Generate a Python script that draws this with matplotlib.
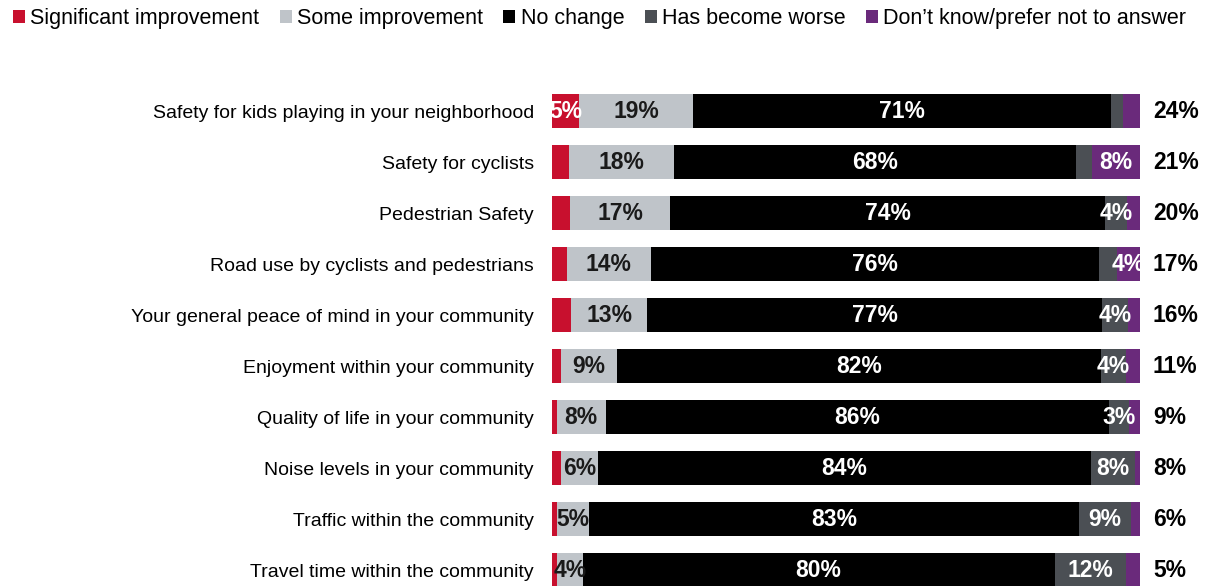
import numpy as np
import matplotlib.pyplot as plt

plt.rcParams['font.family'] = ['Liberation Sans', 'DejaVu Sans']

categories = [
    "Safety for kids playing in your neighborhood",
    "Safety for cyclists",
    "Pedestrian Safety",
    "Road use by cyclists and pedestrians",
    "Your general peace of mind in your community",
    "Enjoyment within your community",
    "Quality of life in your community",
    "Noise levels in your community",
    "Traffic within the community",
    "Travel time within the community",
]
series_names = ["Significant improvement", "Some improvement", "No change",
                "Has become worse", "Don\u2019t know/prefer not to answer"]
significant = [4.6, 2.9, 3.1, 2.5, 3.3, 1.6, 0.8, 1.5, 0.9, 0.9]
some = [19.4, 17.9, 17.0, 14.3, 12.9, 9.4, 8.3, 6.4, 5.4, 4.3]
no_change = [71.1, 68.4, 74.0, 76.2, 77.3, 82.3, 85.7, 83.7, 83.3, 80.3]
worse = [2.0, 2.6, 3.7, 3.1, 4.4, 4.4, 3.4, 7.6, 8.8, 12.1]
dont_know = [2.9, 8.2, 2.2, 3.9, 2.1, 2.3, 1.8, 0.8, 1.6, 2.4]
total_improved = [24, 21, 20, 17, 16, 11, 9, 8, 6, 5]

# which segment labels are printed in the original
show_sig = [True, False, False, False, False, False, False, False, False, False]
show_some = [True] * 10
show_none = [True] * 10
show_worse = [False, False, True, False, True, True, True, True, True, True]
show_dk = [False, True, False, True, False, False, False, False, False, False]

colors = ["#c8102e", "#bfc4c9", "#000000", "#4b4f54", "#6a2a7b"]
text_colors = ["white", "#1a1a1a", "white", "white", "white"]

series = [significant, some, no_change, worse, dont_know]
shows = [show_sig, show_some, show_none, show_worse, show_dk]

fig = plt.figure(figsize=(12.06, 5.86), dpi=100)
ax = fig.add_axes([552 / 1206, 0, 588 / 1206, 526 / 586])

y = np.arange(len(categories))
left = np.zeros(len(categories))
handles = []
for vals, show, c, tc, name in zip(series, shows, colors, text_colors, series_names):
    vals = np.array(vals, dtype=float)
    b = ax.barh(y, vals, left=left, height=0.67, color=c, label=name)
    handles.append(b)
    for i in range(len(categories)):
        if show[i]:
            ax.text(left[i] + vals[i] / 2, y[i], f"{int(round(vals[i]))}%", ha="center", va="center",
                    color=tc, fontsize=16.5, fontweight="bold")
    left += vals

for i, t in enumerate(total_improved):
    ax.text(102.2, y[i], f"{t}%", ha="left", va="center", fontsize=16.5,
            fontweight="bold", color="black", clip_on=False)

ax.set_xlim(0, 100)
ax.set_ylim(9.31, -1.0)
ax.set_yticks(y)
ax.set_yticklabels(categories, fontsize=14)
ax.tick_params(axis="y", length=0, pad=13)
ax.set_xticks([])
for s in ax.spines.values():
    s.set_visible(False)

fig.legend(handles=handles, loc="upper left", bbox_to_anchor=(0.001, 1.006), ncol=5,
           frameon=False, fontsize=15.5, handlelength=0.55, handleheight=0.55,
           handletextpad=0.25, columnspacing=0.95, borderaxespad=0.15)

fig.savefig("out.png", dpi=100)
